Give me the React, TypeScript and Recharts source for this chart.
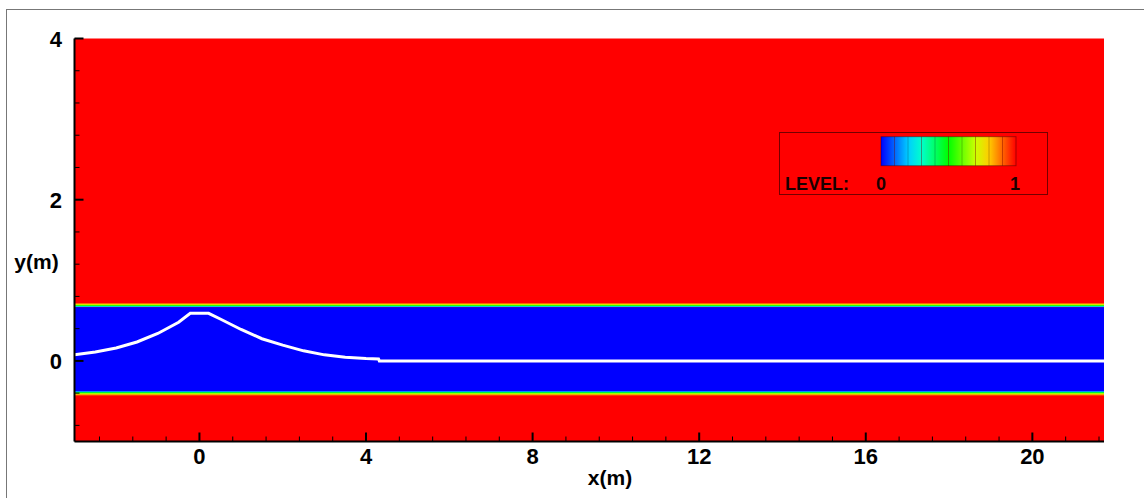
import React from 'react'
import { ComposedChart, Line, XAxis, YAxis, ReferenceArea } from 'recharts'

// wave surface profile
const waveX = [-3, -2.5, -2, -1.5, -1, -0.5, -0.22, 0.22, 0.5, 1, 1.5, 2, 2.5, 3, 3.5, 4, 4.3, 4.32, 21.72]
const waveY = [0.075, 0.11, 0.16, 0.235, 0.34, 0.48, 0.59, 0.59, 0.52, 0.39, 0.275, 0.195, 0.125, 0.075, 0.045, 0.03, 0.025, 0, 0]

// interface bands (y, m)
const upperBand = [0.665, 0.722]
const lowerBand = [-0.435, -0.373]

const xDomain = [-3, 21.72]
const yDomain = [-1, 4]
const xMajor = [0, 4, 8, 12, 16, 20]
const yMajor = [0, 2, 4]
const xMinorStep = 0.8
const yMinorStep = 0.4

const levelColors = [
  '#0000ff', '#0066ff', '#00ccff', '#00ffcc', '#00ff66', '#00ff00',
  '#66ff00', '#ccff00', '#ffcc00', '#ff6600', '#ff0000',
]

const makeTicks = (lo: number, hi: number, step: number) => {
  const out: number[] = []
  for (let k = Math.ceil(lo / step); k * step <= hi + 1e-9; k++) {
    out.push(Math.round(k * step * 1000) / 1000)
  }
  return out
}

const xTicks = makeTicks(xDomain[0], xDomain[1], xMinorStep)
const yTicks = makeTicks(yDomain[0], yDomain[1], yMinorStep)

const data = waveX.map((x, i) => ({ x, y: waveY[i] }))

const FONT = '"Liberation Sans", Arial, sans-serif'
const isMajor = (list: number[], v: number) => list.some(m => Math.abs(m - v) < 1e-6)

const XTick = (props: any) => {
  const { x, y, payload } = props
  const major = isMajor(xMajor, payload.value)
  return (
    <g>
      <line x1={x} x2={x} y1={y} y2={y - (major ? 9 : 5)} stroke="#000" strokeWidth={major ? 2 : 1} />
      {major && (
        <text x={x} y={y + 22.3} textAnchor="middle" fontFamily={FONT} fontWeight="bold" fontSize={22} fill="#000">
          {payload.value}
        </text>
      )}
    </g>
  )
}

const YTick = (props: any) => {
  const { x, y, payload } = props
  const major = isMajor(yMajor, payload.value)
  return (
    <g>
      <line x1={x} x2={x + (major ? 9 : 5)} y1={y} y2={y} stroke="#000" strokeWidth={major ? 2 : 1} />
      {major && (
        <text x={x - 12.5} y={y + 8} textAnchor="end" fontFamily={FONT} fontWeight="bold" fontSize={22} fill="#000">
          {payload.value}
        </text>
      )}
    </g>
  )
}

const LevelLegend = () => {
  const barX = 102
  const barW = 135
  const segW = barW / (levelColors.length - 1)
  return (
    <svg width={270} height={64} style={{ position: 'absolute', left: 779, top: 132, overflow: 'visible' }}>
      <defs>
        {levelColors.slice(0, -1).map((c, i) => (
          <linearGradient key={i} id={`seg${i}`} x1="0" x2="1" y1="0" y2="0">
            <stop offset="0%" stopColor={c} />
            <stop offset="100%" stopColor={levelColors[i + 1]} />
          </linearGradient>
        ))}
        <linearGradient id="upperGrad" x1="0" x2="0" y1="0" y2="1">
          <stop offset="0%" stopColor="#ff0000" />
          <stop offset="25%" stopColor="#ff9900" />
          <stop offset="45%" stopColor="#ccff00" />
          <stop offset="65%" stopColor="#00ff00" />
          <stop offset="85%" stopColor="#00ccff" />
          <stop offset="100%" stopColor="#0000ff" />
        </linearGradient>
        <linearGradient id="lowerGrad" x1="0" x2="0" y1="0" y2="1">
          <stop offset="0%" stopColor="#0000ff" />
          <stop offset="15%" stopColor="#00ccff" />
          <stop offset="35%" stopColor="#00ff00" />
          <stop offset="55%" stopColor="#ccff00" />
          <stop offset="75%" stopColor="#ff9900" />
          <stop offset="100%" stopColor="#ff0000" />
        </linearGradient>
      </defs>
      <rect x={0.5} y={0.5} width={268} height={62} fill="none" stroke="rgba(0,0,0,0.55)" strokeWidth={1} />
      {levelColors.slice(0, -1).map((_, i) => (
        <rect key={i} x={barX + i * segW} y={4.7} width={segW} height={29} fill={`url(#seg${i})`} />
      ))}
      {levelColors.slice(1, -1).map((_, i) => (
        <line key={i} x1={barX + (i + 1) * segW} x2={barX + (i + 1) * segW} y1={4.7} y2={33.7} stroke="rgba(0,0,0,0.22)" strokeWidth={1} />
      ))}
      <rect x={barX} y={4.7} width={barW} height={29} fill="none" stroke="rgba(0,0,0,0.35)" strokeWidth={1} />
      <g fontFamily={FONT} fontWeight="bold" fontSize={18} fill="#1a0000">
        <text x={6} y={58}>LEVEL:</text>
        <text x={102} y={58} textAnchor="middle">0</text>
        <text x={236} y={58} textAnchor="middle">1</text>
      </g>
    </svg>
  )
}

export default function App() {
  return (
    <div style={{ position: 'fixed', left: 0, top: 0, width: 1144, height: 498, overflow: 'hidden', background: '#fff' }}>
      <div
        style={{
          position: 'absolute',
          left: 6,
          top: 9,
          width: 2000,
          height: 2000,
          borderLeft: '1px solid #777',
          borderTop: '1px solid #777',
        }}
      />
      <div style={{ position: 'absolute', left: 0, top: 0 }}>
        <ComposedChart
          width={1144}
          height={498}
          data={data}
          margin={{ top: 38.5, right: 40, bottom: 16.5, left: 14.5 }}
        >
          <ReferenceArea x1={xDomain[0]} x2={xDomain[1]} y1={yDomain[0]} y2={yDomain[1]} fill="#ff0000" fillOpacity={1} stroke="none" />
          <ReferenceArea x1={xDomain[0]} x2={xDomain[1]} y1={lowerBand[1]} y2={upperBand[0]} fill="#0000ff" fillOpacity={1} stroke="none" />
          <ReferenceArea x1={xDomain[0]} x2={xDomain[1]} y1={upperBand[0]} y2={upperBand[1]} fill="url(#upperGrad)" fillOpacity={1} stroke="none" />
          <ReferenceArea x1={xDomain[0]} x2={xDomain[1]} y1={lowerBand[0]} y2={lowerBand[1]} fill="url(#lowerGrad)" fillOpacity={1} stroke="none" />
          <Line
            dataKey="y"
            type="linear"
            stroke="#ffffff"
            strokeWidth={3}
            dot={false}
            activeDot={false}
            isAnimationActive={false}
          />
          <XAxis
            dataKey="x"
            type="number"
            domain={xDomain}
            allowDataOverflow
            ticks={xTicks}
            interval={0}
            tick={<XTick />}
            tickLine={false}
            tickSize={0}
            tickMargin={0}
            height={40}
            axisLine={{ stroke: '#000', strokeWidth: 2 }}
          />
          <YAxis
            type="number"
            domain={yDomain}
            allowDataOverflow
            ticks={yTicks}
            interval={0}
            tick={<YTick />}
            tickLine={false}
            tickSize={0}
            tickMargin={0}
            width={60}
            axisLine={{ stroke: '#000', strokeWidth: 2 }}
          />
        </ComposedChart>
      </div>
      <LevelLegend />
      <div style={{ position: 'absolute', left: 0, top: 0, width: 1144, height: 498, pointerEvents: 'none' }}>
        <svg width={1144} height={498}>
          <g fontFamily={FONT} fontWeight="bold" fontSize={21} fill="#000">
            <text x={36.5} y={268.6} textAnchor="middle">y(m)</text>
            <text x={610} y={485.3} textAnchor="middle">x(m)</text>
          </g>
        </svg>
      </div>
    </div>
  )
}
